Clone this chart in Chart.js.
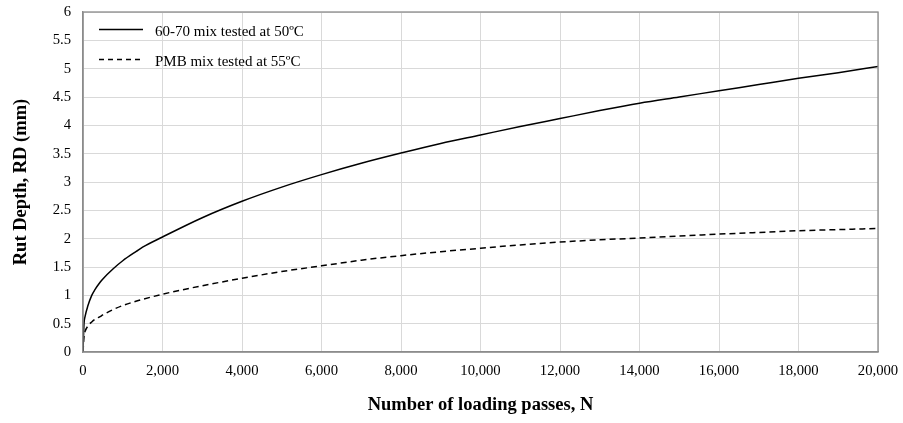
<!DOCTYPE html>
<html>
<head>
<meta charset="utf-8">
<script src="https://cdn.jsdelivr.net/npm/chart.js@4"></script>
<style>
  html, body { margin: 0; padding: 0; background: #fff; }
  #wrap { position: relative; width: 903px; height: 423px; }
  #legend { position: absolute; left: 99px; top: 20px; font-family: "Liberation Serif", "Times New Roman", serif; font-size: 15px; color: #000; }
  .item { position: absolute; left: 0; white-space: nowrap; height: 20px; }
  .item svg { position: absolute; left: 0; top: 0; }
  .item span { position: absolute; left: 56px; top: 1px; line-height: 20px; }
</style>
</head>
<body>
<div id="wrap">
  <canvas id="c"></canvas>
  <div id="legend"></div>
</div>
<script>
// Data
const passes = [0, 25, 50, 125, 220, 300, 430, 500, 760, 1000, 1350, 1500, 2000, 3000, 4000, 5000, 6000, 7000, 8000, 9000, 10000, 11000, 12000, 13000, 14000, 15000, 16000, 17000, 18000, 19000, 20000];
const rd6070 = [0, 0.5, 0.62, 0.82, 1.0, 1.1, 1.23, 1.29, 1.47, 1.61, 1.78, 1.85, 2.03, 2.37, 2.66, 2.91, 3.13, 3.33, 3.51, 3.68, 3.83, 3.98, 4.12, 4.26, 4.39, 4.5, 4.61, 4.72, 4.83, 4.93, 5.04];
const rdPMB  = [0, 0.28, 0.36, 0.46, 0.53, 0.575, 0.625, 0.655, 0.75, 0.82, 0.9, 0.93, 1.02, 1.17, 1.3, 1.42, 1.52, 1.62, 1.7, 1.77, 1.83, 1.89, 1.94, 1.98, 2.01, 2.045, 2.08, 2.11, 2.14, 2.16, 2.18];
const seriesNames = ["60-70 mix tested at 50ºC", "PMB mix tested at 55ºC"];
const xTicks = [0, 2000, 4000, 6000, 8000, 10000, 12000, 14000, 16000, 18000, 20000];
const yTicks = [0, 0.5, 1, 1.5, 2, 2.5, 3, 3.5, 4, 4.5, 5, 5.5, 6];
const xTitle = "Number of loading passes, N";
const yTitle = "Rut Depth, RD (mm)";

const toPts = (ys) => passes.map((x, i) => ({ x: x, y: ys[i] }));
const serif = '"Liberation Serif", "Times New Roman", serif';

const frame = {
  id: 'frame',
  afterDraw(chart) {
    const a = chart.chartArea, ctx = chart.ctx;
    ctx.save();
    ctx.strokeStyle = '#8c8c8c';
    ctx.lineWidth = 1.3;
    ctx.strokeRect(a.left, a.top, a.right - a.left, a.bottom - a.top);
    ctx.restore();
  }
};

new Chart(document.getElementById('c'), {
  type: 'line',
  data: {
    datasets: [
      { label: seriesNames[0], data: toPts(rd6070), borderColor: '#000', borderWidth: 1.5, pointRadius: 0, fill: false, cubicInterpolationMode: 'monotone' },
      { label: seriesNames[1], data: toPts(rdPMB), borderColor: '#000', borderWidth: 1.5, borderDash: [6, 4], pointRadius: 0, fill: false, cubicInterpolationMode: 'monotone' }
    ]
  },
  options: {
    responsive: true,
    maintainAspectRatio: false,
    animation: false,
    events: [],
    layout: { padding: { top: 12, right: 25, bottom: 0, left: 0 } },
    plugins: { legend: { display: false }, tooltip: { enabled: false } },
    scales: {
      x: {
        type: 'linear', min: 0, max: 20000,
        afterBuildTicks(s) { s.ticks = xTicks.map(v => ({ value: v })); },
        afterFit(s) { s.height = 71; s.paddingLeft = 0; s.paddingRight = 0; },
        grid: { color: '#d9d9d9', lineWidth: 1, drawTicks: false },
        border: { color: '#8c8c8c', width: 1.3 },
        ticks: { padding: 10, color: '#000', font: { family: serif, size: 14.7 }, maxRotation: 0, autoSkip: false,
          callback: (v) => Number(v).toLocaleString('en-US') },
        title: { display: true, text: xTitle, color: '#000', font: { family: serif, size: 18.5, weight: 'bold' }, padding: { top: 0, bottom: 7 } }
      },
      y: {
        min: 0, max: 6,
        afterBuildTicks(s) { s.ticks = yTicks.map(v => ({ value: v })); },
        afterFit(s) { s.width = 83; s.paddingTop = 0; s.paddingBottom = 0; },
        grid: { color: '#d9d9d9', lineWidth: 1, drawTicks: false },
        border: { color: '#8c8c8c', width: 1.3 },
        ticks: { padding: 12, color: '#000', font: { family: serif, size: 14.7 }, autoSkip: false,
          callback: (v) => String(v) },
        title: { display: true, text: yTitle, color: '#000', font: { family: serif, size: 18.5, weight: 'bold' }, padding: { top: 10, bottom: 0 } }
      }
    }
  },
  plugins: [frame]
});

// Legend (HTML, inside plot area)
const leg = document.getElementById('legend');
const dashes = [null, '5,4'];
const tops = [0, 30];
seriesNames.forEach((name, i) => {
  const d = document.createElement('div');
  d.className = 'item';
  d.style.top = tops[i] + 'px';
  d.innerHTML = '<svg width="46" height="20"><line x1="0" y1="9.5" x2="44" y2="9.5" stroke="#000" stroke-width="1.5"' +
    (dashes[i] ? ' stroke-dasharray="' + dashes[i] + '"' : '') + '/></svg><span></span>';
  d.querySelector('span').textContent = name;
  leg.appendChild(d);
});
</script>
</body>
</html>
